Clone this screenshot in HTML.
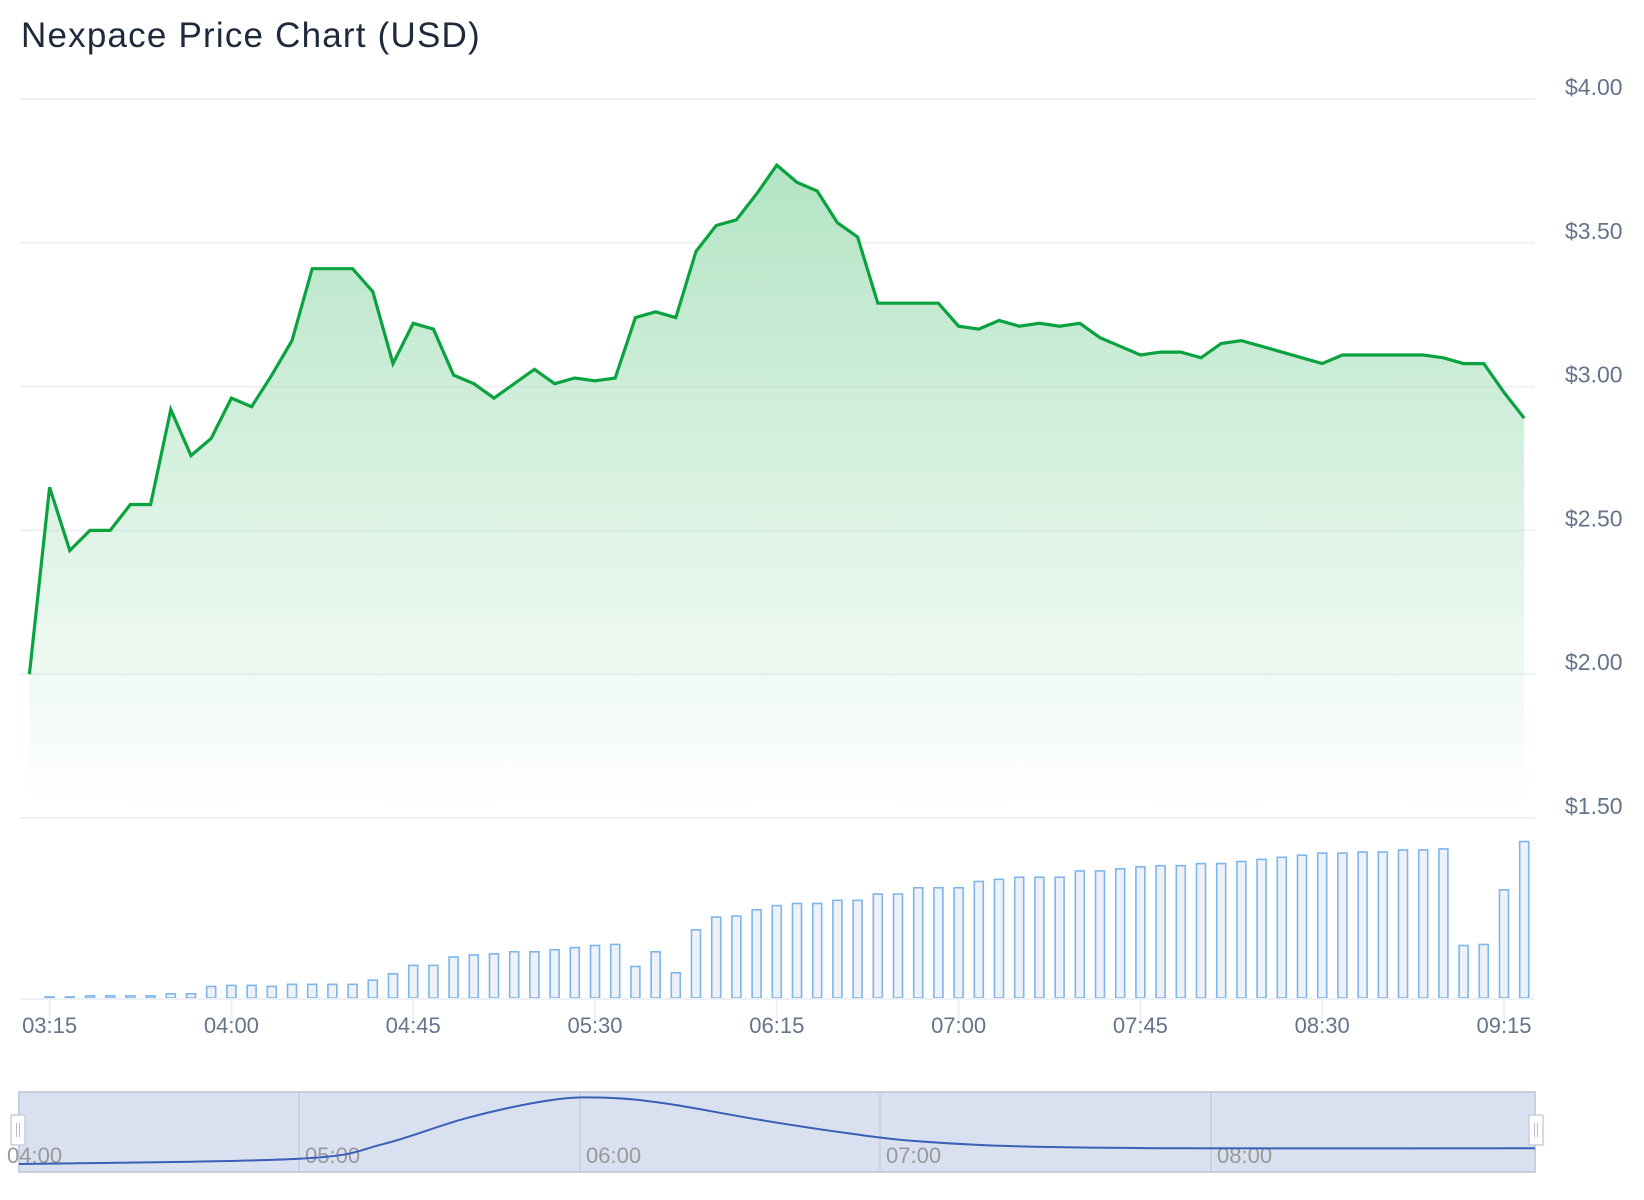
<!DOCTYPE html>
<html><head><meta charset="utf-8"><style>
html,body{margin:0;padding:0;background:#fff;width:1644px;height:1200px;overflow:hidden}
svg{display:block}
text{font-family:"Liberation Sans",sans-serif}
</style></head><body>
<svg id="chart" width="1644" height="1200">
<defs>
<linearGradient id="gfill" x1="0" y1="0" x2="0" y2="1">
<stop offset="0" stop-color="#b3e4c4"/>
<stop offset="1" stop-color="#b3e4c4" stop-opacity="0"/>
</linearGradient>
</defs>
<text x="21" y="47" font-size="35" letter-spacing="1.2" fill="#1e293b">Nexpace Price Chart (USD)</text>
<g id="grid"></g><g id="area"></g><g id="bars"></g><g id="xaxis"></g><g id="nav"></g>
</svg>
<script>
const prices=[2.00,2.65,2.43,2.50,2.50,2.59,2.59,2.92,2.76,2.82,2.96,2.93,3.04,3.16,3.41,3.41,3.41,3.33,3.08,3.22,3.20,3.04,3.01,2.96,3.01,3.06,3.01,3.03,3.02,3.03,3.24,3.26,3.24,3.47,3.56,3.58,3.67,3.77,3.71,3.68,3.57,3.52,3.29,3.29,3.29,3.29,3.21,3.20,3.23,3.21,3.22,3.21,3.22,3.17,3.14,3.11,3.12,3.12,3.10,3.15,3.16,3.14,3.12,3.10,3.08,3.11,3.11,3.11,3.11,3.11,3.10,3.08,3.08,2.98,2.89];
const volumes=[0,1,1,2,2,2,2,4,4,11,12,12,11,13,13,13,13,17,23,31,31,39,41,42,44,44,46,48,50,51,30,44,24,65,77,78,84,88,90,90,93,93,99,99,105,105,105,111,113,115,115,115,121,121,123,125,126,126,128,128,130,132,134,136,138,138,139,139,141,141,142,50,51,103,149];
const yTicks=[4.00,3.50,3.00,2.50,2.00,1.50];
const xTickIdx=[1,10,19,28,37,46,55,64,73];
const xTickLabels=["03:15","04:00","04:45","05:30","06:15","07:00","07:45","08:30","09:15"];
const navTimes=[4.0,5.0,5.3,5.6,5.9,6.1,6.3,6.6,6.9,7.1,7.4,7.9,9.2];
const navValues=[0,5,19,44,61,63,57,42,29,22,17,15,15];
const navTickLabels=["04:00","05:00","06:00","07:00","08:00"];
const navTickHours=[4,5,6,7,8];

const NS="http://www.w3.org/2000/svg";
function mk(tag,attrs,parent){const e=document.createElementNS(NS,tag);for(const k in attrs)e.setAttribute(k,attrs[k]);parent.appendChild(e);return e;}
const X=i=>29.4+i*20.2;
const Y=v=>99+(4-v)*287.6;
const VB=998;const V=v=>VB-v*1.05;
const grid=document.getElementById('grid');
yTicks.forEach(t=>{
 const l=mk('line',{x1:20,x2:1535,y1:Y(t),y2:Y(t),stroke:'#eef0f4','stroke-width':2},grid);
 
 
 const tx=mk('text',{x:1565,y:Y(t)-4,'font-size':23,fill:'#64748b'},grid);
 tx.textContent='$'+t.toFixed(2);
 
 
});
const area=document.getElementById('area');
let d=prices.map((p,i)=>(i?'L':'M')+X(i).toFixed(1)+','+Y(p).toFixed(1)).join('');
const fa=mk('path',{d:d+'L'+X(prices.length-1)+',805L'+X(0)+',805Z',fill:'url(#gfill)'},area);


const ln=mk('path',{d:d,fill:'none',stroke:'#0aa33f','stroke-width':3.2,'stroke-linejoin':'miter'},area);


const bars=document.getElementById('bars');
volumes.forEach((v,i)=>{
 if(v<=0)return;
 const b=mk('rect',{x:X(i)-4.5,y:V(v),width:9,height:v*1.05,fill:'#eef2f7',stroke:'#7db5ec','stroke-width':1.6},bars);
 
 
});
const xa=document.getElementById('xaxis');
const al=mk('line',{x1:20,x2:1535,y1:VB+1,y2:VB+1,stroke:'#eef0f4','stroke-width':2},xa);


xTickIdx.forEach((idx,k)=>{
 const t=mk('line',{x1:X(idx),x2:X(idx),y1:VB,y2:1020,stroke:'#eef0f4','stroke-width':2},xa);
 
 
 const tx=mk('text',{x:X(idx),y:1033,'font-size':22,fill:'#64748b','text-anchor':'middle'},xa);
 tx.textContent=xTickLabels[k];
 
 
});
const nav=document.getElementById('nav');
const navX=h=>{const pts=[[4,0],[5,299],[6,580],[7,880],[8,1211]];
 if(h<=4)return 18+(h-4)*281; if(h>=8)return 1211+(h-8)*331;
 for(let j=0;j<4;j++){if(h<=pts[j+1][0])return pts[j][1]+(h-pts[j][0])*(pts[j+1][1]-pts[j][1]);}};
const navY=v=>1164-v*1.05;
const nb=mk('rect',{x:19,y:1092,width:1516,height:80,fill:'#d9e0ef',stroke:'#c5cfdf','stroke-width':2},nav);


navTickHours.forEach((h,k)=>{
 if(k>0){const g=mk('line',{x1:navX(h),x2:navX(h),y1:1093,y2:1171,stroke:'#c5cdda','stroke-width':1.5},nav);
 
 }
 const tx=mk('text',{x:(k?navX(h)+6:7),y:1163,'font-size':22,fill:'#999'},nav);
 tx.textContent=navTickLabels[k];
 
 
});
const np=navTimes.map((t,i)=>[Math.min(1535,Math.max(19,navX(t))),navY(navValues[i])]);
let nd='M'+np[0][0]+','+np[0][1];
for(let i=0;i<np.length-1;i++){const p0=np[i-1]||np[i],p1=np[i],p2=np[i+1],p3=np[i+2]||p2;
 nd+='C'+(p1[0]+(p2[0]-p0[0])/6)+','+(p1[1]+(p2[1]-p0[1])/6)+' '+(p2[0]-(p3[0]-p1[0])/6)+','+(p2[1]-(p3[1]-p1[1])/6)+' '+p2[0]+','+p2[1];}
const nl=mk('path',{d:nd,fill:'none',stroke:'#3a5fb8','stroke-width':2},nav);


[[11,'navigator-handle-left'],[1529,'navigator-handle-right']].forEach(([hx,nm])=>{
 const h=mk('rect',{x:hx,y:1115,width:14,height:30,fill:'#fff',stroke:'#c5cfdf','stroke-width':1.5,rx:1},nav);
 
 
 mk('line',{x1:hx+5.5,x2:hx+5.5,y1:1123,y2:1137,stroke:'#bbc','stroke-width':1},nav);
 mk('line',{x1:hx+8.5,x2:hx+8.5,y1:1123,y2:1137,stroke:'#bbc','stroke-width':1},nav);
});
</script>
</body></html>
